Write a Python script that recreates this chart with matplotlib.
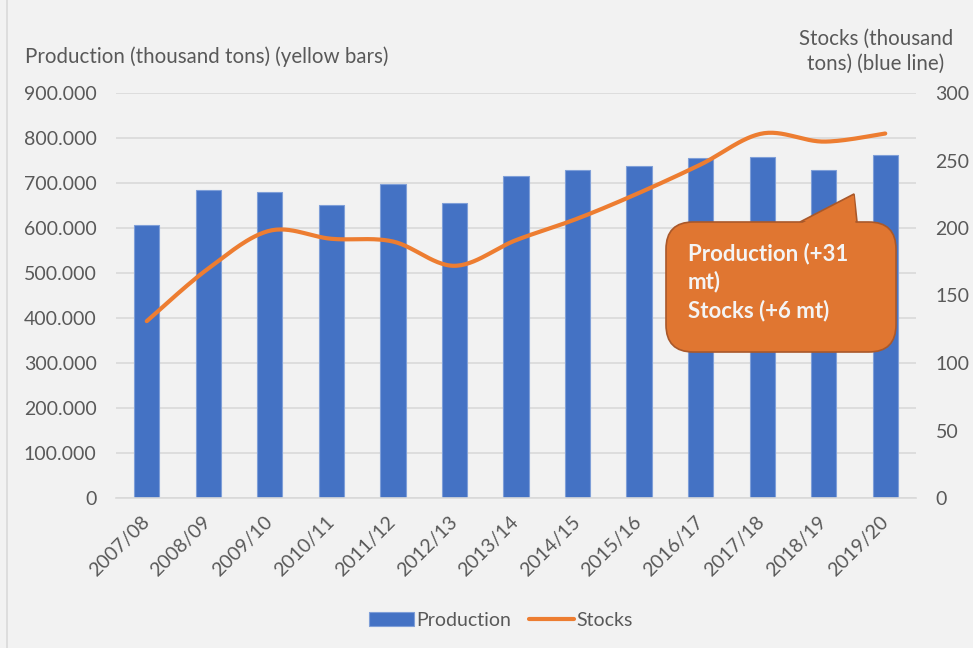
"""
Production (bars, left axis) and stocks (smoothed line, right axis) per
marketing year, with a callout box summarising the latest changes.
"""

import numpy as np
import matplotlib.pyplot as plt
from matplotlib.patches import FancyBboxPatch, Polygon, Rectangle
from matplotlib.ticker import FuncFormatter, MultipleLocator

plt.rcParams["font.family"] = ["Lato", "DejaVu Sans"]

SEASONS = ["2007/08", "2008/09", "2009/10", "2010/11", "2011/12", "2012/13",
           "2013/14", "2014/15", "2015/16", "2016/17", "2017/18", "2018/19",
           "2019/20"]
PRODUCTION = [607000, 684000, 680000, 652000, 698000, 656000, 716000,
              729000, 738000, 756000, 758000, 730000, 762000]
STOCKS = [131, 170, 198, 192, 190, 172, 191, 207, 226, 247, 270, 264, 270]

BAR_BLUE = "#4472C4"
LINE_ORANGE = "#ED7D31"
BG = "#F2F2F2"
GRID = "#D9D9D9"
TEXT = "#595959"
W, H = 973, 648
FS = 14


def smooth_curve(x, y, steps=30):
    """Bezier smoothing through every point (spreadsheet-style smoothed line)."""
    x = np.asarray(x, float)
    y = np.asarray(y, float)
    n = len(x)
    xs, ys = [], []
    for i in range(n - 1):
        p0 = np.array([x[max(i - 1, 0)], y[max(i - 1, 0)]])
        p1 = np.array([x[i], y[i]])
        p2 = np.array([x[i + 1], y[i + 1]])
        p3 = np.array([x[min(i + 2, n - 1)], y[min(i + 2, n - 1)]])
        c1 = p1 + (p2 - p0) / 6
        c2 = p2 - (p3 - p1) / 6
        t = np.linspace(0, 1, steps)[:, None]
        pts = ((1 - t) ** 3 * p1 + 3 * (1 - t) ** 2 * t * c1
               + 3 * (1 - t) * t ** 2 * c2 + t ** 3 * p2)
        xs.extend(pts[:, 0])
        ys.extend(pts[:, 1])
    return np.array(xs), np.array(ys)


def px(x, y):
    return x / W, 1 - y / H


fig = plt.figure(figsize=(W / 100, H / 100), dpi=100, facecolor=BG)
fig.patches.append(Rectangle(px(7, 700), 1.2, 700 - 10, transform=fig.transFigure,
                             fill=False, edgecolor=GRID, linewidth=1.2))

ax = fig.add_axes([116 / W, 1 - 498 / H, 800 / W, 405 / H])
ax.set_facecolor(BG)
x = np.arange(len(SEASONS))
ax.bar(x, PRODUCTION, width=0.41, color=BAR_BLUE, edgecolor="#7F9FD8",
       linewidth=0.8, zorder=2, label="Production")
ax.set_xlim(-0.5, len(SEASONS) - 0.5)
ax.set_ylim(0, 900000)
ax.yaxis.set_major_locator(MultipleLocator(100000))
ax.yaxis.set_major_formatter(FuncFormatter(lambda v, _: f"{v:,.0f}".replace(",", ".")))
ax.grid(axis="y", color=GRID, linewidth=1.2, zorder=0)
for side in ["top", "right", "left"]:
    ax.spines[side].set_visible(False)
ax.spines["bottom"].set_color(GRID)
ax.spines["bottom"].set_linewidth(1.2)
ax.tick_params(axis="both", length=0, labelsize=FS, colors=TEXT)
ax.tick_params(axis="y", pad=14)
ax.set_xticks(x)
ax.set_xticklabels(SEASONS, rotation=45, ha="right", va="center",
                   rotation_mode="anchor")
ax.tick_params(axis="x", pad=15)

ax2 = ax.twinx()
sx, sy = smooth_curve(x, STOCKS)
ax2.plot(sx, sy, color=LINE_ORANGE, linewidth=3, solid_capstyle="round",
         zorder=3, label="Stocks")
ax2.set_ylim(0, 300)
ax2.yaxis.set_major_locator(MultipleLocator(50))
for side in ["top", "right", "left", "bottom"]:
    ax2.spines[side].set_visible(False)
ax2.tick_params(axis="y", length=0, labelsize=FS, colors=TEXT, pad=14)

fig.text(*px(25, 57), "Production (thousand tons) (yellow bars)", fontsize=14.8,
         color=TEXT, ha="left", va="center")
fig.text(*px(876, 51), "Stocks (thousand\ntons) (blue line)", fontsize=14.8,
         color=TEXT, ha="center", va="center", multialignment="center",
         linespacing=1.3)

# callout box
box_face, box_edge = "#E07631", "#A9582A"
pointer = [px(800, 222), px(854, 194), px(857, 222)]
fig.patches.append(Polygon(pointer, closed=True, transform=fig.transFigure,
                           facecolor=box_face, edgecolor=box_edge, linewidth=1.2,
                           zorder=5))
bx0, by0 = px(666, 352)
bx1, by1 = px(896, 222)
fig.patches.append(FancyBboxPatch((bx0, by0), bx1 - bx0, by1 - by0,
                                  boxstyle="round,pad=0,rounding_size=0.028",
                                  transform=fig.transFigure, facecolor=box_face,
                                  edgecolor=box_edge, linewidth=1.2, zorder=6,
                                  mutation_aspect=W / H))
fig.patches.append(Polygon([px(801.5, 223.5), px(854, 195.5), px(855.5, 223.5)],
                           closed=True, transform=fig.transFigure,
                           facecolor=box_face, edgecolor="none", zorder=7))
fig.text(*px(688, 282), "Production (+31\nmt)\nStocks (+6 mt)", fontsize=16,
         fontweight="bold", color="#F4F4F4", ha="left", va="center",
         linespacing=1.4, zorder=8)

handles = ax.get_legend_handles_labels()[0] + ax2.get_legend_handles_labels()[0]
fig.legend(handles, ["Production", "Stocks"], loc="center",
           bbox_to_anchor=px(501, 620), ncol=2, frameon=False, fontsize=FS,
           labelcolor=TEXT, handlelength=2.3, handleheight=0.7,
           handletextpad=0.15, columnspacing=0.9)

fig.savefig("out.png", dpi=100, facecolor=BG)
